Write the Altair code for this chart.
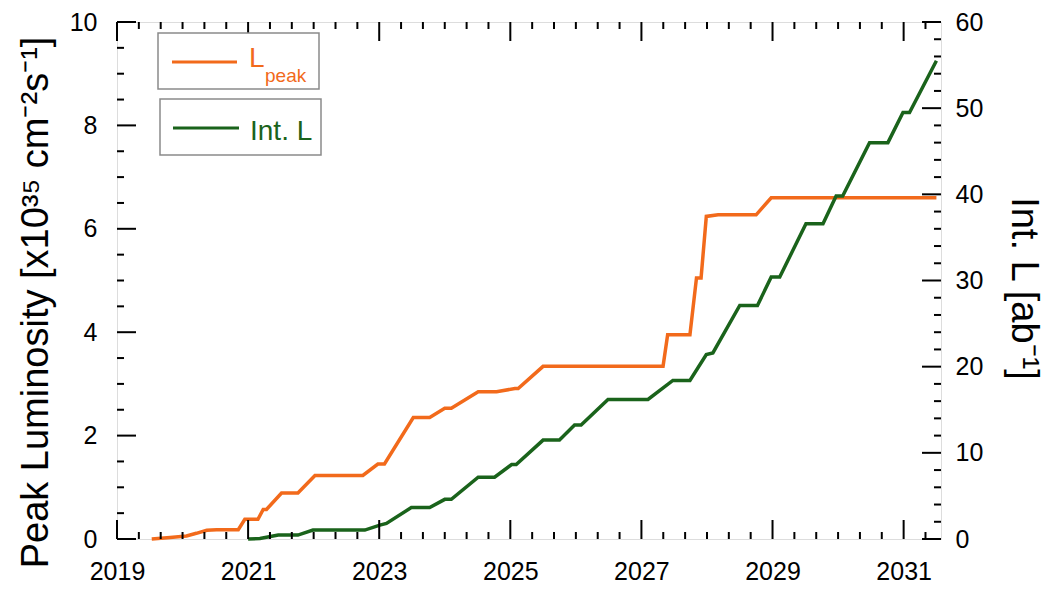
import altair as alt
import pandas as pd
import numpy as np

# ---- data ----
peak_year = [2019.53, 2019.81, 2020.06, 2020.21, 2020.37, 2020.52, 2020.85, 2020.95,
             2021.15, 2021.23, 2021.28, 2021.51, 2021.76, 2022.02, 2022.75, 2022.98,
             2023.08, 2023.52, 2023.77, 2024.00, 2024.10, 2024.51, 2024.79, 2025.07,
             2025.12, 2025.50, 2027.33, 2027.40, 2027.74, 2027.84, 2027.91, 2027.99,
             2028.17, 2028.75, 2028.98, 2031.50]
peak_val = [0.00, 0.03, 0.06, 0.11, 0.17, 0.18, 0.18, 0.38,
            0.38, 0.57, 0.57, 0.89, 0.89, 1.23, 1.23, 1.45,
            1.45, 2.35, 2.35, 2.53, 2.53, 2.85, 2.85, 2.91,
            2.91, 3.34, 3.34, 3.95, 3.95, 5.05, 5.05, 6.24,
            6.27, 6.27, 6.60, 6.60]

int_year = [2021.00, 2021.18, 2021.46, 2021.76, 2021.99, 2022.78, 2023.01, 2023.11,
            2023.49, 2023.77, 2024.00, 2024.10, 2024.51, 2024.76, 2025.02, 2025.09,
            2025.50, 2025.75, 2025.98, 2026.08, 2026.49, 2027.10, 2027.48, 2027.74,
            2027.99, 2028.09, 2028.50, 2028.77, 2028.98, 2029.11, 2029.51, 2029.77,
            2029.97, 2030.07, 2030.48, 2030.76, 2030.99, 2031.09, 2031.50]
int_val = [0.0, 0.05, 0.45, 0.45, 1.04, 1.04, 1.61, 1.80,
           3.65, 3.65, 4.6, 4.6, 7.18, 7.18, 8.64, 8.64,
           11.48, 11.48, 13.24, 13.24, 16.2, 16.2, 18.4, 18.4,
           21.4, 21.6, 27.1, 27.1, 30.4, 30.4, 36.6, 36.6,
           39.8, 39.8, 46.0, 46.0, 49.5, 49.5, 55.5]

x_labels = [2019, 2021, 2023, 2025, 2027, 2029, 2031]
left_labels = [0, 2, 4, 6, 8, 10]
right_labels = [0, 10, 20, 30, 40, 50, 60]

TOP = 14
W, H = 824, 539 - 8 - TOP
ORANGE = "#f26a1b"
GREEN = "#1a631b"
FONT = "Liberation Sans"
XDOM = [2019, 2031.57]

xs = alt.Scale(domain=XDOM, nice=False, zero=False)
ls = alt.Scale(domain=[0, 10], nice=False, zero=False)
rs = alt.Scale(domain=[0, 60], nice=False, zero=False)

x_axis = alt.Axis(values=x_labels, format="d", title=None, ticks=False, tickSize=0,
                  domain=False, grid=False, labelFontSize=25, labelFont=FONT,
                  labelColor="black", labelPadding=20, labelFlush=False)


def X():
    return alt.X("year:Q", scale=xs, axis=x_axis)


df_peak = pd.DataFrame({"year": peak_year, "v": peak_val})
df_int = pd.DataFrame({"year": int_year, "v": int_val})

orange = alt.Chart(df_peak).mark_line(color=ORANGE, strokeWidth=3.5).encode(
    x=X(),
    y=alt.Y("v:Q", scale=ls,
            axis=alt.Axis(values=left_labels, orient="left", ticks=False, tickSize=0,
                          domain=False, grid=False, labelFontSize=25, labelFont=FONT,
                          labelColor="black", labelPadding=20, labelFlush=False,
                          title="Peak Luminosity [x10³⁵ cm⁻²s⁻¹]", titleFont=FONT,
                          titleFontSize=38, titleFontWeight="normal", titleColor="black",
                          titleX=-70, titleY=302 - 8 - TOP, titleBaseline="alphabetic",
                          titleAngle=270, titleAlign="center")),
)

green = alt.Chart(df_int).mark_line(color=GREEN, strokeWidth=3.5).encode(
    x=X(),
    y=alt.Y("v:Q", scale=rs,
            axis=alt.Axis(values=right_labels, orient="right", ticks=False, tickSize=0,
                          domain=False, grid=False, labelFontSize=25, labelFont=FONT,
                          labelColor="black", labelPadding=14, labelFlush=False,
                          title="Int. L [ab⁻¹]", titleFont=FONT,
                          titleFontSize=38, titleFontWeight="normal", titleColor="black",
                          titleX=70, titleY=288 - 8 - TOP, titleBaseline="alphabetic",
                          titleAngle=90, titleAlign="center")),
)

# ---- inward tick marks (positions from the scales) ----
x_major = np.arange(2019, 2032, 2)
x_minor = np.array([t for t in np.arange(2019, 2031.56, 1 / 3.0)
                    if abs(t - round(t)) > 0.05 or int(round(t)) % 2 == 0])
l_major = np.arange(0, 10.01, 2)
l_minor = np.array([t for t in np.arange(0, 10.01, 0.5) if t % 2 != 0])
r_major = np.arange(0, 60.01, 10)
r_minor = np.array([t for t in np.arange(0, 60.01, 2) if t % 10 != 0])

MAJ, MIN = 19, 7


def xticks(vals, length):
    d = pd.DataFrame({"year": vals})
    base = alt.Chart(d).mark_rule(color="black", strokeWidth=2)
    bot = base.encode(x=X(), y=alt.value(H), y2=alt.value(H - length))
    top = base.encode(x=X(), y=alt.value(0), y2=alt.value(length))
    return [bot, top]


def yticks(vals, length, scale, side):
    d = pd.DataFrame({"v": vals})
    base = alt.Chart(d).mark_rule(color="black", strokeWidth=2)
    if side == "left":
        return base.encode(y=alt.Y("v:Q", scale=scale, axis=None),
                           x=alt.value(0), x2=alt.value(length))
    return base.encode(y=alt.Y("v:Q", scale=scale, axis=None),
                       x=alt.value(W), x2=alt.value(W - length))


tick_layers = (xticks(x_major, MAJ) + xticks(x_minor, MIN) +
               [yticks(l_major, MAJ, ls, "left"), yticks(l_minor, MIN, ls, "left"),
                yticks(r_major, MAJ, rs, "right"), yticks(r_minor, MIN, rs, "right")])

# ---- legend boxes (pixel positions relative to plot top-left) ----
dy = 17 - 8 - TOP  # keep legend at same page position as reference
one = pd.DataFrame({"a": [0]})
box1 = alt.Chart(one).mark_rect(fill="white", stroke="#8a8a8a", strokeWidth=1.5).encode(
    x=alt.value(41), x2=alt.value(202), y=alt.value(16 + dy), y2=alt.value(72 + dy))
box2 = alt.Chart(one).mark_rect(fill="white", stroke="#8a8a8a", strokeWidth=1.5).encode(
    x=alt.value(43), x2=alt.value(204), y=alt.value(82 + dy), y2=alt.value(138 + dy))
lg1 = alt.Chart(one).mark_rule(color=ORANGE, strokeWidth=3).encode(
    x=alt.value(55), x2=alt.value(120), y=alt.value(45 + dy))
lg2 = alt.Chart(one).mark_rule(color=GREEN, strokeWidth=3).encode(
    x=alt.value(56), x2=alt.value(122), y=alt.value(111 + dy))
t1 = alt.Chart(one).mark_text(color=ORANGE, font=FONT, fontSize=28, align="left",
                              baseline="alphabetic").encode(
    x=alt.value(132), y=alt.value(50 + dy), text=alt.value("L"))
t1s = alt.Chart(one).mark_text(color=ORANGE, font=FONT, fontSize=19, align="left",
                               baseline="alphabetic").encode(
    x=alt.value(148), y=alt.value(65 + dy), text=alt.value("peak"))
t2 = alt.Chart(one).mark_text(color=GREEN, font=FONT, fontSize=28, align="left",
                              baseline="alphabetic").encode(
    x=alt.value(133), y=alt.value(123 + dy), text=alt.value("Int. L"))

chart = alt.layer(
    orange, green, *tick_layers, box1, box2, lg1, lg2, t1, t1s, t2
).resolve_scale(y="independent").properties(
    width=W, height=H,
    autosize=alt.AutoSizeParams(type="none"),
    padding={"left": 109, "top": TOP, "right": 109, "bottom": 45},
).configure_view(stroke="black", strokeWidth=3).configure(background="white")

chart.save("out.html", embed_options={"renderer": "svg", "actions": False})
